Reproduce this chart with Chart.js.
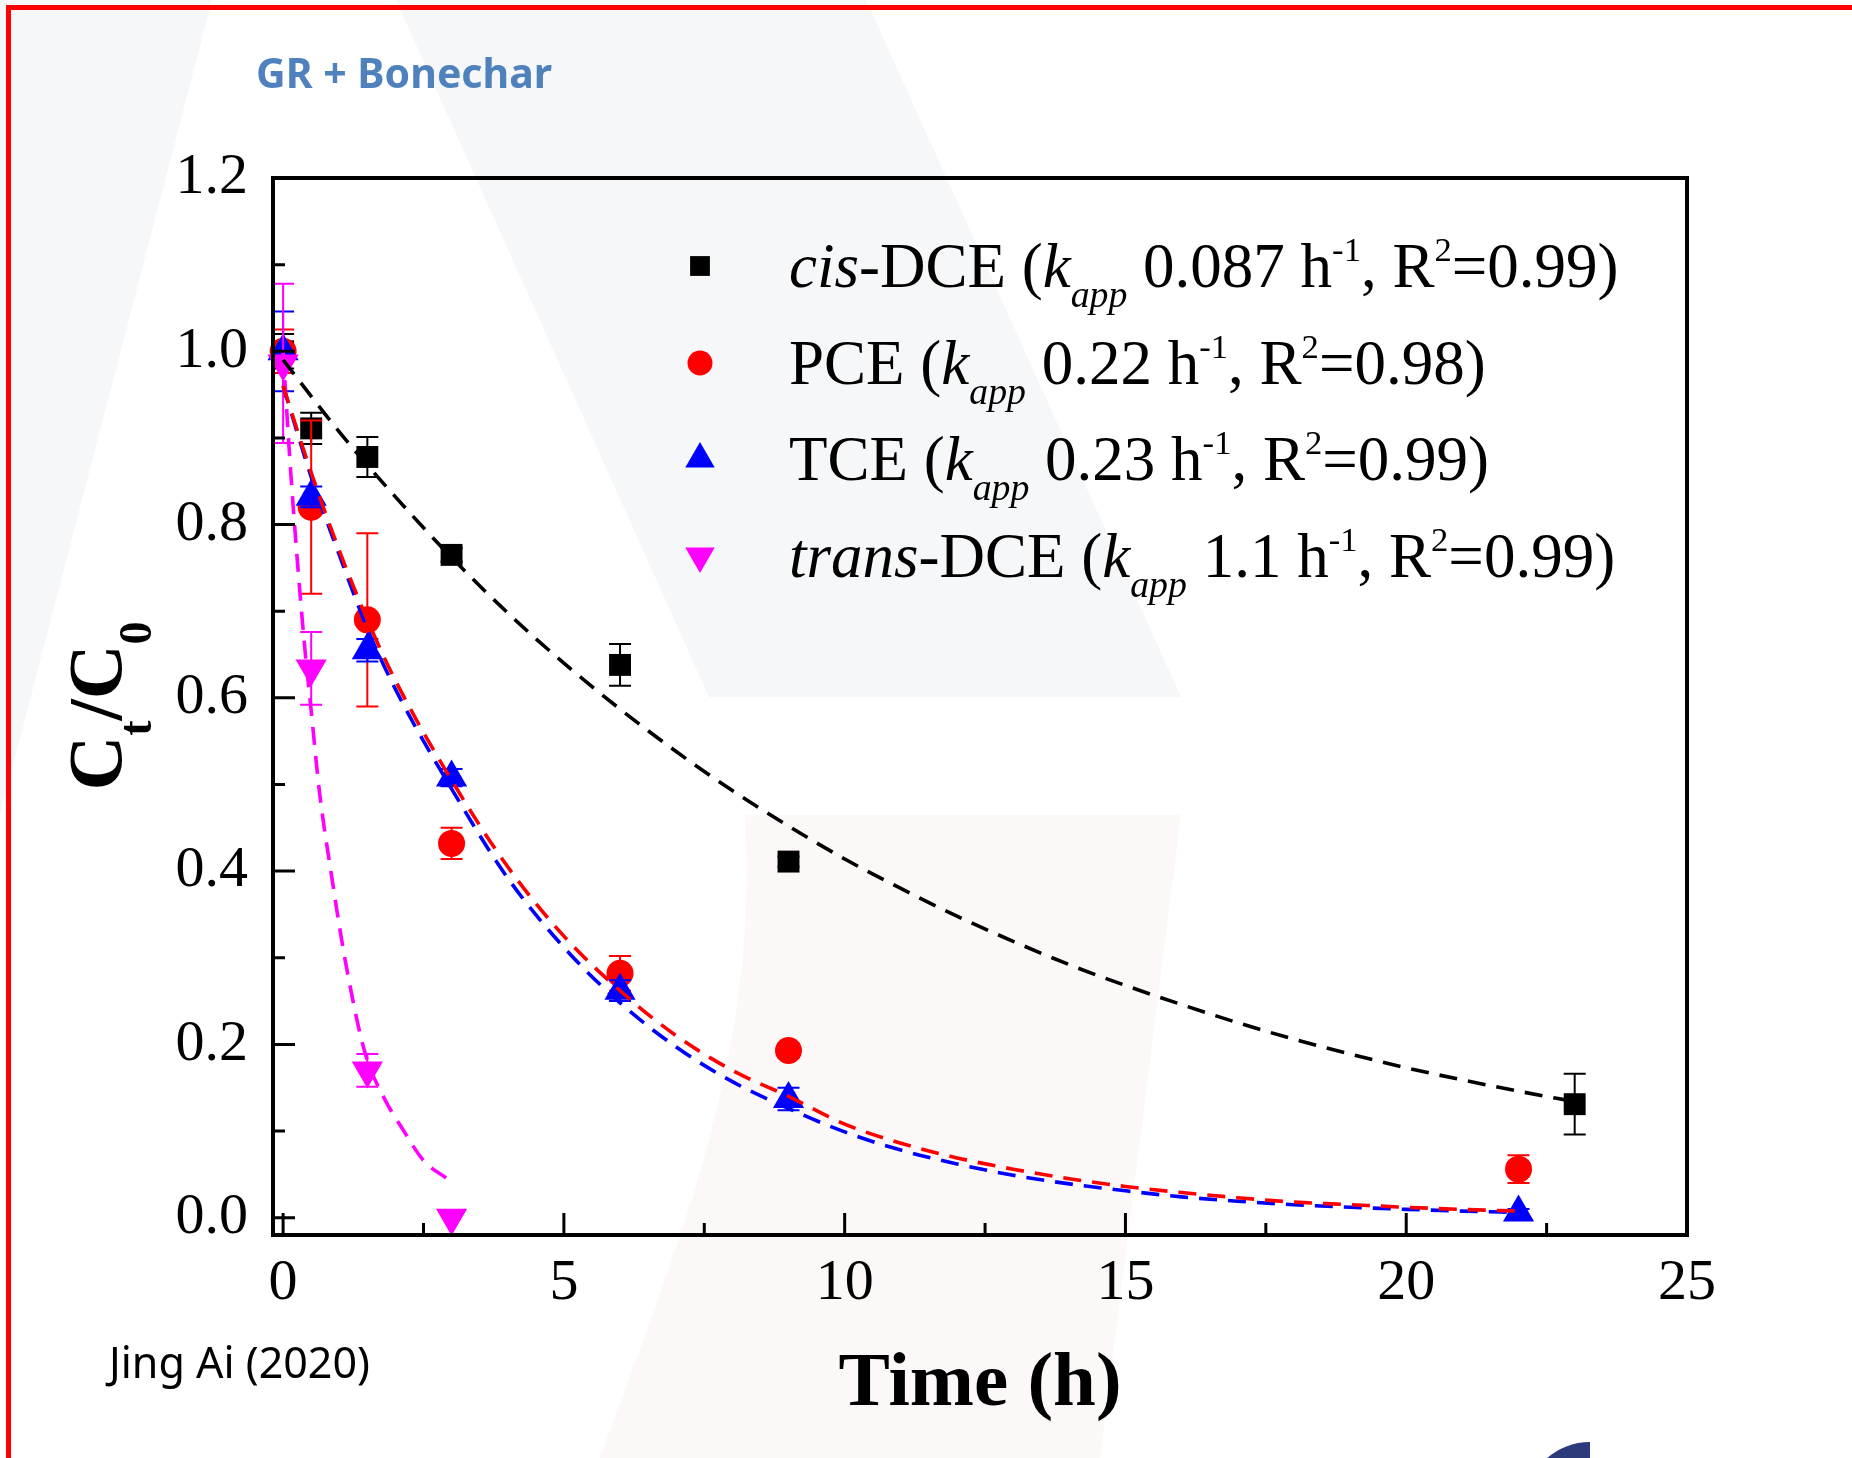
<!DOCTYPE html>
<html lang="en">
  <head>
    <meta charset="UTF-8" />
    <title>GR + Bonechar</title>
    <script src="https://cdn.jsdelivr.net/npm/chart.js"></script>
    <style>
      html, body { margin: 0; padding: 0; background: #fff; }
      #wrap { position: relative; width: 1852px; height: 1458px; overflow: hidden; }
      #frame {
        position: absolute; left: 6px; top: 5px; width: 1900px; height: 1500px;
        border-top: 5px solid #ff0000; border-left: 5px solid #ff0000; pointer-events: none;
      }
      .note { position: absolute; white-space: nowrap; line-height: 1; }
      #panelTitle { left: 256px; top: 44px; font: bold 41px "Noto Sans", sans-serif; color: #4f81bd; }
      #credit { left: 109px; top: 1332px; font: 43px "Noto Sans", sans-serif; color: #000; }
    </style>
  </head>
  <body>
    <div id="wrap">
      <canvas id="decayChart" width="1852" height="1458"></canvas>
      <div id="frame"></div>
      <div class="note" id="panelTitle">GR + Bonechar</div>
      <div class="note" id="credit">Jing Ai (2020)</div>
    </div>
    <script>
      // measured points (Ct/C0) with error bars
      const cisTime = [0, 0.5, 1.5, 3, 6, 9, 23];
      const cisValue = [1.0, 0.911, 0.878, 0.765, 0.638, 0.411, 0.131];
      const cisError = [0.02, 0.018, 0.023, 0.008, 0.024, 0.006, 0.035];

      const pceTime = [0, 0.5, 1.5, 3, 6, 9, 22];
      const pceValue = [1.0, 0.82, 0.69, 0.432, 0.282, 0.193, 0.056];
      const pceError = [0.025, 0.1, 0.1, 0.018, 0.02, 0.008, 0.016];

      const tceTime = [0, 0.5, 1.5, 3, 6, 9, 22];
      const tceValue = [1.0, 0.832, 0.655, 0.508, 0.262, 0.137, 0.006];
      const tceError = [0.046, 0.012, 0.013, 0.01, 0.012, 0.013, 0.004];

      const transTime = [0, 0.5, 1.5, 3];
      const transValue = [0.986, 0.634, 0.17, 0.0];
      const transError = [0.092, 0.042, 0.019, 0];

      // fitted curves
      const cisFitTime = [0, 1, 2, 3, 4, 5, 6, 7, 8, 9, 10, 11, 12, 13, 14, 15, 16, 17, 18, 19, 20, 21, 22, 23];
      const cisFitValue = [0.99, 0.907, 0.832, 0.762, 0.698, 0.64, 0.587, 0.538, 0.493, 0.452, 0.414, 0.38,
        0.348, 0.319, 0.292, 0.268, 0.246, 0.225, 0.206, 0.189, 0.173, 0.159, 0.146, 0.134];

      const pceFitTime = [0, 0.5, 1, 1.5, 2, 3, 4, 5, 6, 7, 8, 9, 10, 11, 12, 13, 14, 15, 16, 17, 18, 19, 20, 21, 22];
      const pceFitValue = [0.96, 0.86, 0.77, 0.69, 0.62, 0.505, 0.405, 0.325, 0.262, 0.21, 0.17, 0.14, 0.108,
        0.086, 0.069, 0.056, 0.045, 0.036, 0.029, 0.023, 0.018, 0.015, 0.012, 0.0095, 0.0077];

      const tceFitTime = [0, 0.5, 1, 1.5, 2, 3, 4, 5, 6, 7, 8, 9, 10, 11, 12, 13, 14, 15, 16, 17, 18, 19, 20, 21, 22];
      const tceFitValue = [0.96, 0.855, 0.765, 0.68, 0.61, 0.495, 0.392, 0.312, 0.248, 0.197, 0.157, 0.126, 0.099,
        0.078, 0.062, 0.049, 0.039, 0.031, 0.024, 0.019, 0.015, 0.012, 0.0096, 0.0076, 0.006];

      const transFitTime = [0, 0.12, 0.27, 0.39, 0.5, 0.65, 0.85, 1.12, 1.46, 1.8, 2.15, 2.5, 2.94];
      const transFitValue = [1.0, 0.875, 0.745, 0.655, 0.585, 0.49, 0.4, 0.292, 0.19, 0.138, 0.1, 0.066, 0.044];

      // axes
      const xMajorTicks = [0, 5, 10, 15, 20, 25];
      const xMinorTicks = [2.5, 7.5, 12.5, 17.5, 22.5];
      const yMajorTicks = [0, 0.2, 0.4, 0.6, 0.8, 1.0, 1.2];
      const yMinorTicks = [0.1, 0.3, 0.5, 0.7, 0.9, 1.1];

      // legend text
      const seriesNames = ["cis-DCE", "PCE", "TCE", "trans-DCE"];
      const italicPrefix = ["cis", "", "", "trans"];
      const kApp = ["0.087", "0.22", "0.23", "1.1"];
      const rSquared = ["0.99", "0.98", "0.99", "0.99"];

      const SERIF = '"Liberation Serif", "Times New Roman", serif';
      Chart.defaults.font.family = SERIF;
      Chart.defaults.color = "#000";

      const pts = (xs, ys) => xs.map((x, i) => ({ x: x, y: ys[i] }));

      const markerStyle = [
        { color: "#000000", pointStyle: "rect", radius: 15.5, rotation: 0, legendRadius: 14 },
        { color: "#ff0000", pointStyle: "circle", radius: 13.5, rotation: 0, legendRadius: 12.5 },
        { color: "#0000ff", pointStyle: "triangle", radius: 18, rotation: 0, legendRadius: 17 },
        { color: "#ff00ff", pointStyle: "triangle", radius: 18, rotation: 180, legendRadius: 17 },
      ];

      function markerDataset(i, xs, ys, errs, order) {
        const s = markerStyle[i];
        return {
          label: seriesNames[i],
          data: pts(xs, ys),
          errors: errs,
          showLine: false,
          pointStyle: s.pointStyle,
          pointRotation: s.rotation,
          pointRadius: s.radius,
          pointBorderWidth: 0,
          backgroundColor: s.color,
          borderColor: s.color,
          clip: false,
          order: order,
        };
      }

      function fitDataset(name, xs, ys, color) {
        return {
          label: name + " fit",
          data: pts(xs, ys),
          showLine: true,
          borderColor: color,
          borderWidth: 3.6,
          borderDash: [18, 11],
          pointRadius: 0,
          cubicInterpolationMode: "monotone",
          fill: false,
          order: 0,
        };
      }

      const errorBars = {
        id: "errorBars",
        beforeDatasetDraw(chart, args) {
          const ds = chart.data.datasets[args.index];
          if (!ds.errors) return;
          const { ctx } = chart;
          const x = chart.scales.x, y = chart.scales.y;
          ctx.save();
          ctx.strokeStyle = ds.borderColor;
          ctx.lineWidth = 2;
          ctx.setLineDash([]);
          ds.data.forEach((p, i) => {
            const e = ds.errors[i];
            if (!e) return;
            const px = x.getPixelForValue(p.x);
            const top = y.getPixelForValue(p.y + e);
            const bot = y.getPixelForValue(p.y - e);
            ctx.beginPath();
            ctx.moveTo(px, top); ctx.lineTo(px, bot);
            ctx.moveTo(px - 11, top); ctx.lineTo(px + 11, top);
            ctx.moveTo(px - 11, bot); ctx.lineTo(px + 11, bot);
            ctx.stroke();
          });
          ctx.restore();
        },
      };

      const backdrop = {
        id: "backdrop",
        beforeDraw(chart) {
          const ctx = chart.ctx;
          ctx.save();
          ctx.fillStyle = "#ffffff";
          ctx.fillRect(0, 0, chart.width, chart.height);
          // faint watermark shapes behind the plot
          ctx.fillStyle = "#f6f7f9";
          ctx.beginPath();
          ctx.moveTo(0, 0); ctx.lineTo(212, 0); ctx.lineTo(0, 815); ctx.closePath();
          ctx.fill();
          ctx.beginPath();
          ctx.moveTo(396, 0); ctx.lineTo(866, 0); ctx.lineTo(1181, 697); ctx.lineTo(709, 697); ctx.closePath();
          ctx.fill();
          ctx.fillStyle = "#fdf8f8";
          ctx.beginPath();
          ctx.moveTo(745, 815); ctx.lineTo(1181, 815); ctx.lineTo(1100, 1458); ctx.lineTo(600, 1458);
          ctx.bezierCurveTo(680, 1240, 760, 1050, 745, 815);
          ctx.closePath();
          ctx.fill();
          // partial logo at the bottom edge
          ctx.fillStyle = "#2d3b7c";
          ctx.beginPath();
          ctx.ellipse(1590, 1500, 62, 58, 0, Math.PI, 1.5 * Math.PI);
          ctx.lineTo(1590, 1470);
          ctx.ellipse(1590, 1500, 38, 30, 0, 1.5 * Math.PI, Math.PI, true);
          ctx.closePath();
          ctx.fill();
          ctx.restore();
        },
      };

      function drawRich(ctx, x, baseline, parts, size) {
        parts.forEach((p) => {
          const fs = p.sub ? size * 0.6 : p.sup ? size * 0.55 : size;
          ctx.font = (p.italic ? "italic " : "") + (p.bold ? "bold " : "") + fs + "px " + SERIF;
          const dy = p.sub ? p.subShift : p.sup ? -p.supShift : 0;
          ctx.fillText(p.t, x, baseline + dy);
          x += ctx.measureText(p.t).width;
        });
        return x;
      }

      function legendParts(i) {
        const name = seriesNames[i];
        const pre = italicPrefix[i];
        const parts = [];
        if (pre) parts.push({ t: pre, italic: true });
        parts.push({ t: name.slice(pre.length) + " (" });
        parts.push({ t: "k", italic: true });
        parts.push({ t: "app", italic: true, sub: true, subShift: 20 });
        parts.push({ t: " " + kApp[i] + " h" });
        parts.push({ t: "-1", sup: true, supShift: 26 });
        parts.push({ t: ", R" });
        parts.push({ t: "2", sup: true, supShift: 26 });
        parts.push({ t: "=" + rSquared[i] + ")" });
        return parts;
      }

      const frameAndLegend = {
        id: "frameAndLegend",
        afterDatasetsDraw(chart) {
          const { ctx, chartArea: a } = chart;
          const x = chart.scales.x, y = chart.scales.y;
          ctx.save();
          ctx.setLineDash([]);
          ctx.strokeStyle = "#000";
          ctx.lineWidth = 4;
          ctx.strokeRect(a.left, a.top, a.right - a.left, a.bottom - a.top);
          ctx.lineWidth = 3;
          ctx.beginPath();
          xMajorTicks.forEach((v) => { const px = x.getPixelForValue(v); ctx.moveTo(px, a.bottom); ctx.lineTo(px, a.bottom - 22); });
          xMinorTicks.forEach((v) => { const px = x.getPixelForValue(v); ctx.moveTo(px, a.bottom); ctx.lineTo(px, a.bottom - 12); });
          yMajorTicks.forEach((v) => { const py = y.getPixelForValue(v); ctx.moveTo(a.left, py); ctx.lineTo(a.left + 22, py); });
          yMinorTicks.forEach((v) => { const py = y.getPixelForValue(v); ctx.moveTo(a.left, py); ctx.lineTo(a.left + 12, py); });
          ctx.stroke();

          // legend
          ctx.textBaseline = "alphabetic";
          ctx.textAlign = "left";
          const baselines = [287, 384, 480, 577];
          seriesNames.forEach((n, i) => {
            const s = markerStyle[i];
            ctx.fillStyle = s.color;
            Chart.helpers.drawPoint(ctx, { pointStyle: s.pointStyle, radius: s.legendRadius, rotation: s.rotation, borderWidth: 0 },
              700, baselines[i] - 21);
            ctx.fillStyle = "#000";
            drawRich(ctx, 789, baselines[i], legendParts(i), 63);
          });

          // y-axis title  C_t / C_0
          ctx.translate(121, 706);
          ctx.rotate(-Math.PI / 2);
          const yParts = [
            { t: "C", bold: true },
            { t: "t", bold: true, sub: true, subShift: 30 },
            { t: "/", bold: true },
            { t: "C", bold: true },
            { t: "0", bold: true, sub: true, subShift: 30 },
          ];
          let w = 0;
          yParts.forEach((p) => {
            ctx.font = "bold " + (p.sub ? 46 : 76) + "px " + SERIF;
            w += ctx.measureText(p.t).width;
          });
          let cx = -w / 2;
          yParts.forEach((p) => {
            ctx.font = "bold " + (p.sub ? 46 : 76) + "px " + SERIF;
            ctx.fillText(p.t, cx, p.sub ? p.subShift : 0);
            cx += ctx.measureText(p.t).width;
          });
          ctx.restore();
        },
      };

      const ctx = document.getElementById("decayChart").getContext("2d");
      new Chart(ctx, {
        type: "scatter",
        data: {
          datasets: [
            fitDataset("cis-DCE", cisFitTime, cisFitValue, "#000000"),
            fitDataset("PCE", pceFitTime, pceFitValue, "#ff0000"),
            fitDataset("TCE", tceFitTime, tceFitValue, "#0000ff"),
            fitDataset("trans-DCE", transFitTime, transFitValue, "#ff00ff"),
            markerDataset(0, cisTime, cisValue, cisError, 4),
            markerDataset(1, pceTime, pceValue, pceError, 3),
            markerDataset(2, tceTime, tceValue, tceError, 2),
            markerDataset(3, transTime, transValue, transError, 1),
          ],
        },
        options: {
          responsive: false,
          animation: false,
          devicePixelRatio: 1,
          layout: { padding: { left: 0, top: 178, right: 165, bottom: 0 } },
          plugins: { legend: { display: false }, tooltip: { enabled: false } },
          scales: {
            x: {
              type: "linear",
              min: -0.18,
              max: 25,
              grid: { display: false, drawTicks: false },
              border: { display: false },
              afterBuildTicks: (s) => { s.ticks = xMajorTicks.map((v) => ({ value: v })); },
              afterFit: (s) => { s.height = 223; },
              ticks: { font: { size: 58 }, color: "#000", padding: 14, maxRotation: 0, autoSkip: false },
              title: {
                display: true,
                text: "Time (h)",
                color: "#000",
                font: { size: 77, weight: "bold" },
                padding: { top: 0, bottom: 27 },
              },
            },
            y: {
              type: "linear",
              min: -0.02,
              max: 1.2,
              grid: { display: false, drawTicks: false },
              border: { display: false },
              afterBuildTicks: (s) => { s.ticks = yMajorTicks.map((v) => ({ value: v })); },
              afterFit: (s) => { s.width = 273; },
              ticks: {
                font: { size: 58 },
                color: "#000",
                padding: 25,
                autoSkip: false,
                callback: (v) => Number(v).toFixed(1),
              },
            },
          },
        },
        plugins: [backdrop, errorBars, frameAndLegend],
      });
    </script>
  </body>
</html>
